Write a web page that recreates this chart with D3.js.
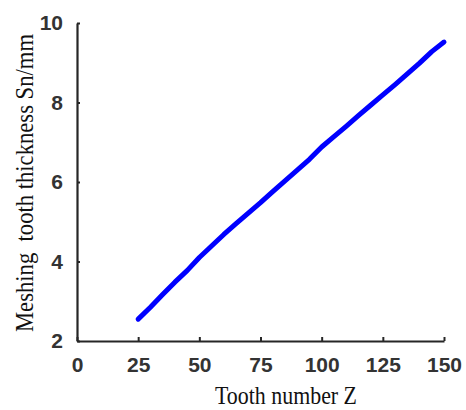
<!DOCTYPE html>
<html>
<head>
<meta charset="utf-8">
<script src="https://cdn.jsdelivr.net/npm/d3@7"></script>
<style>
  html, body { margin: 0; padding: 0; background: #fff; }
  svg { display: block; }
</style>
</head>
<body>
<div id="chart"></div>
<script>
// tooth number Z and meshing tooth thickness Sn (mm)
const toothNumbers = [25, 30, 35, 40, 45, 50, 55, 60, 65, 70, 75, 80, 85, 90, 95,
  100, 105, 110, 115, 120, 125, 130, 135, 140, 145, 150];
const thickness = [2.55, 2.85, 3.17, 3.48, 3.77, 4.10, 4.39, 4.68, 4.95, 5.22, 5.48,
  5.76, 6.03, 6.30, 6.57, 6.88, 7.14, 7.40, 7.67, 7.93, 8.19, 8.45, 8.72, 8.99, 9.28, 9.52];
const xTicks = [0, 25, 50, 75, 100, 125, 150];
const yTicks = [2, 4, 6, 8, 10];

const W = 466, H = 410;
const svg = d3.select("#chart").append("svg")
  .attr("width", W).attr("height", H);

// plot box
const x = d3.scaleLinear().domain([0, 150]).range([77, 444]);
const y = d3.scaleLinear().domain([2, 10]).range([341, 23]);

const axisColor = "#262626";
const labelFont = "'Liberation Sans', Arial, sans-serif";
const titleFont = "'Liberation Serif', 'Times New Roman', serif";

// x axis (ticks point inward)
const xAxis = svg.append("g")
  .attr("transform", `translate(0,${y(2)})`)
  .call(d3.axisBottom(x).tickValues(xTicks).tickSizeInner(-4).tickSizeOuter(0).tickPadding(11));

// y axis
const yAxis = svg.append("g")
  .attr("transform", `translate(${x(0)},0)`)
  .call(d3.axisLeft(y).tickValues(yTicks).tickSizeInner(-3).tickSizeOuter(0).tickPadding(14));

[xAxis, yAxis].forEach(a => {
  a.select(".domain").attr("stroke", axisColor).attr("stroke-width", 2.2);
  a.selectAll(".tick line").attr("stroke", axisColor).attr("stroke-width", 2);
  a.selectAll(".tick text")
    .attr("fill", "#333")
    .style("font-family", labelFont)
    .style("font-size", "21px")
    .style("font-weight", "bold");
});
xAxis.selectAll(".tick text").attr("dy", "0.95em");

// the curve
const line = d3.line()
  .x((d, i) => x(toothNumbers[i]))
  .y(d => y(d));

svg.append("path")
  .datum(thickness)
  .attr("d", line)
  .attr("fill", "none")
  .attr("stroke", "#0000ff")
  .attr("stroke-width", 5)
  .attr("stroke-linecap", "round")
  .attr("stroke-linejoin", "round");

// axis titles (tall, narrow serif as in the source)
svg.append("text")
  .attr("x", 286).attr("y", 404)
  .attr("text-anchor", "middle")
  .attr("textLength", 142)
  .attr("lengthAdjust", "spacingAndGlyphs")
  .style("font-family", titleFont)
  .style("font-size", "26px")
  .style("fill", "#111")
  .text("Tooth number Z");

svg.append("text")
  .attr("transform", "translate(33,183) rotate(-90)")
  .attr("text-anchor", "middle")
  .attr("textLength", 298)
  .attr("lengthAdjust", "spacingAndGlyphs")
  .style("font-family", titleFont)
  .style("font-size", "25px")
  .style("fill", "#111")
  .style("white-space", "pre")
  .text("Meshing  tooth thickness Sn/mm");
</script>
</body>
</html>
